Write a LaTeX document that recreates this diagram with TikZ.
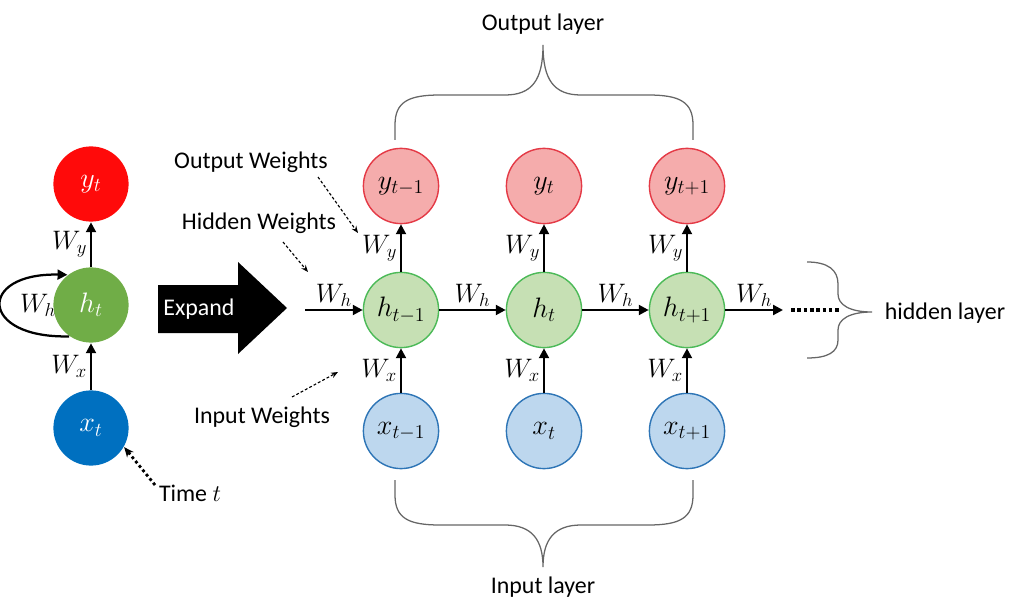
\RequirePackage{fix-cm}
\documentclass[tikz,border=0pt]{standalone}
\usepackage{fontspec}
\setmainfont{Carlito}
\usepackage{tikz}
\usetikzlibrary{calc}
\usetikzlibrary{arrows.meta}
\definecolor{dred}{RGB}{255,10,10}
\definecolor{dgreen}{RGB}{112,173,71}
\definecolor{dblue}{RGB}{0,112,192}
\definecolor{lred}{RGB}{245,172,172}
\definecolor{lgreen}{RGB}{198,224,180}
\definecolor{lblue}{RGB}{189,215,238}
\definecolor{bred}{RGB}{228,58,70}
\definecolor{bgreen}{RGB}{76,186,88}
\definecolor{bblue}{RGB}{46,117,182}
\tikzset{%
  myedge/.style={-{Triangle[length=7pt,width=7pt]}, line width=1.6pt},
  mynote/.style={-{Stealth[length=5pt,width=4pt]}, line width=0.8pt, dash pattern=on 2pt off 1.5pt},
  mybrace/.style={gray!80!black, line width=0.9pt},
  mynode/.style={circle, minimum size=1.88cm, inner sep=0pt, line width=1pt, font=\fontsize{20}{24}\selectfont},
  mylabel/.style={font=\fontsize{19}{22}\selectfont, inner sep=2pt}
}

\begin{document}
\begin{tikzpicture}[x=0.025cm, y=-0.025cm, font=\fontsize{17}{20}\selectfont]
  \useasboundingbox (0,0) rectangle (1011,603);

% folded network
\node [mynode, fill=dred, text=white]   (yl) at (91,184) {$y_t$};
\node [mynode, fill=dgreen, text=white] (hl) at (91,305) {$h_t$};
\node [mynode, fill=dblue, text=white]  (xl) at (91,428) {$x_t$};
\draw [myedge] (hl) -- node [mylabel, left] {$W_y$} (yl);
\draw [myedge] (xl) -- node [mylabel, left] {$W_x$} (hl);
\draw [myedge] (hl.235) .. controls +(-90,2) and +(-90,-2) .. (hl.128);
\node [mylabel] (whl) at (38,305) {$W_h$};

\node (time) at (190,493) {Time $t$};
\coordinate (timefrom) at (155,485);
\draw [-{Stealth[length=7pt,width=6pt]}, line width=2pt, dotted] (timefrom) -- (xl.-30);

% expand arrow
\fill (158,285) -- (238,285) -- (238,262) -- (287,308) -- (238,354) -- (238,333) -- (158,333) -- cycle;
\node [text=white] (expand) at (199,309) {Expand};

% unrolled network
\foreach \i / \x / \s in {a/401/t-1, b/544/t, c/687/t+1}{
  \node [mynode, fill=lred, draw=bred]     (y\i) at (\x,186) {$y_{\s}$};
  \node [mynode, fill=lgreen, draw=bgreen] (h\i) at (\x,310) {$h_{\s}$};
  \node [mynode, fill=lblue, draw=bblue]   (x\i) at (\x,431) {$x_{\s}$};
  \draw [myedge] (h\i) -- node [mylabel, left] {$W_y$} (y\i);
  \draw [myedge] (x\i) -- node [mylabel, left] {$W_x$} (h\i);
}

\coordinate (hin) at (305,310);
\coordinate (hout) at (783,310);
\draw [myedge] (hin) -- node [mylabel, above] {$W_h$} (ha);
\draw [myedge] (ha) -- node [mylabel, above] {$W_h$} (hb);
\draw [myedge] (hb) -- node [mylabel, above] {$W_h$} (hc);
\draw [myedge] (hc) -- node [mylabel, above] {$W_h$} (hout);
\coordinate (dotsa) at (791,310);
\coordinate (dotsb) at (841,310);
\draw [line width=2.2pt, dash pattern=on 2.5pt off 2pt] (dotsa) -- (dotsb);

% notes
\node (ow) at (251,162) {Output Weights};
\node (hw) at (259,223) {Hidden Weights};
\node (iw) at (262,417) {Input Weights};
\coordinate (owa) at (318,177);
\coordinate (owb) at (358,233);
\coordinate (hwa) at (283,242);
\coordinate (hwb) at (308,272);
\coordinate (iwa) at (292,397);
\coordinate (iwb) at (338,372);
\draw [mynote] (owa) -- (owb);
\draw [mynote] (hwa) -- (hwb);
\draw [mynote] (iwa) -- (iwb);

% braces
\draw [mybrace] (395,140) -- (395,125) .. controls (395,102) and (408,95) .. (440,95) -- (505,95)
  .. controls (532,95) and (543,80) .. (543,45)
  .. controls (543,80) and (554,95) .. (581,95) -- (648,95)
  .. controls (680,95) and (693,102) .. (693,125) -- (693,140);
\draw [mybrace] (395,480) -- (395,495) .. controls (395,518) and (408,525) .. (440,525) -- (505,525)
  .. controls (532,525) and (543,540) .. (543,567)
  .. controls (543,540) and (554,525) .. (581,525) -- (648,525)
  .. controls (680,525) and (693,518) .. (693,495) -- (693,480);
\draw [mybrace] (807,262) .. controls (828,262) and (838,270) .. (838,284) -- (838,294)
  .. controls (838,305) and (850,312) .. (872,312)
  .. controls (850,312) and (838,319) .. (838,330) -- (838,340)
  .. controls (838,352) and (828,358) .. (807,358);

\node (outl) at (543,24) {Output layer};
\node (inl) at (543,587) {Input layer};
\node (hidl) at (945,313) {hidden layer};

\end{tikzpicture}
\end{document}
